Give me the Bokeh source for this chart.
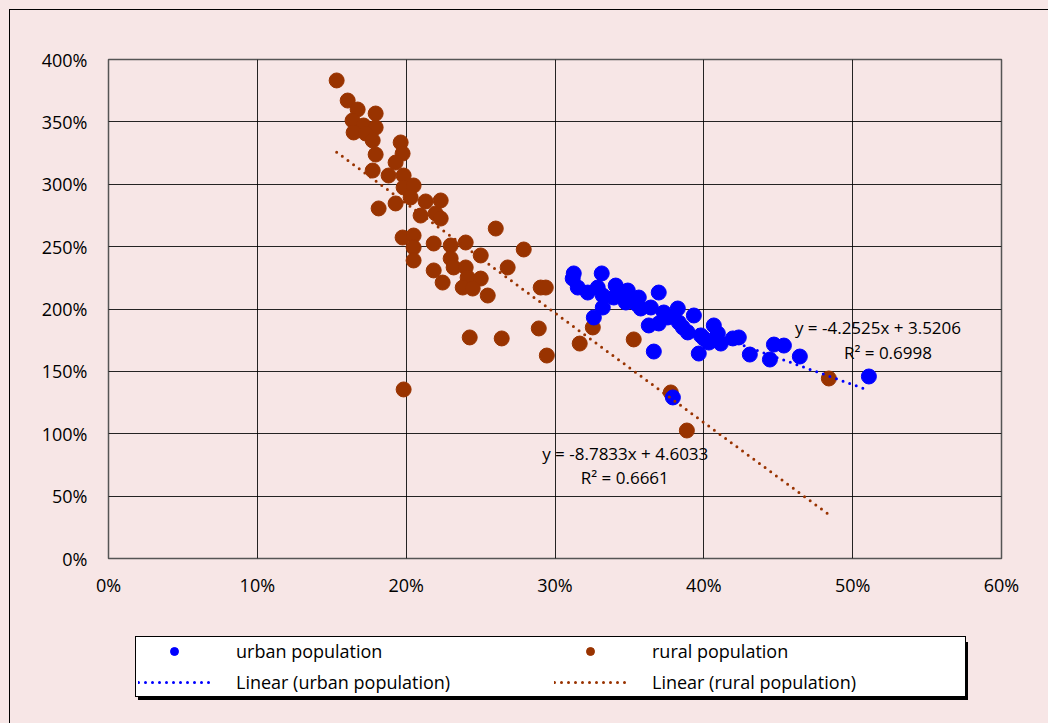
import numpy as np
from bokeh.plotting import figure
from bokeh.layouts import column
from bokeh.models import (Legend, LegendItem, NumeralTickFormatter, FixedTicker,
                          Label, Range1d, InlineStyleSheet)
from bokeh.embed import file_html
from bokeh.resources import INLINE

# ---- data (percent values) ----
urban_x = [31.26, 31.19, 33.14, 31.53, 32.20, 32.87, 33.21, 34.08, 33.95, 34.89,
           34.76, 35.63, 35.76, 36.97, 36.44, 37.31, 36.30, 36.97, 38.25, 38.32,
           39.33, 38.92, 39.80, 40.67, 40.94, 40.34, 41.14, 41.95, 42.35, 32.61,
           33.21, 36.64, 39.66, 43.09, 44.71, 45.38, 44.44, 46.45, 51.09, 37.92,
           34.29, 35.43, 37.58, 38.59, 40.00]
urban_y = [228.5, 224.4, 228.5, 217.2, 213.2, 217.2, 210.8, 218.8, 209.2, 214.8,
           205.2, 209.2, 200.4, 213.2, 201.2, 197.2, 186.8, 188.4, 200.4, 189.2,
           194.8, 181.2, 178.8, 186.8, 180.4, 173.1, 172.3, 176.4, 177.2, 193.2,
           201.2, 165.9, 164.3, 163.5, 171.5, 170.7, 159.5, 161.9, 145.9, 129.1,
           212.4, 204.4, 193.2, 185.2, 176.4]

rural_x = [15.33, 16.07, 16.74, 17.95, 16.40, 17.14, 17.95, 16.47, 17.28, 17.75,
           19.63, 19.76, 17.95, 19.29, 17.75, 18.82, 19.83, 19.83, 20.50, 18.15,
           19.29, 20.30, 21.31, 22.32, 20.97, 21.98, 22.32, 26.02, 19.76, 20.50,
           20.50, 20.50, 21.85, 22.99, 24.00, 25.01, 22.99, 23.19, 24.00, 21.85,
           22.45, 24.13, 25.01, 23.80, 24.47, 25.48, 27.90, 26.82, 29.04, 29.38,
           28.91, 24.27, 26.42, 29.45, 19.83, 31.66, 32.54, 35.29, 37.78, 38.86,
           48.40]
rural_y = [383.2, 367.1, 359.9, 356.7, 351.1, 347.1, 345.5, 341.5, 340.7, 335.1,
           333.5, 324.6, 323.8, 317.4, 311.0, 307.0, 307.0, 297.4, 299.0, 280.6,
           284.6, 289.4, 286.2, 287.0, 274.9, 276.6, 272.5, 264.5, 257.3, 258.9,
           249.3, 238.9, 252.5, 250.9, 253.3, 242.9, 240.5, 233.3, 233.3, 230.9,
           221.2, 225.3, 224.4, 217.2, 216.4, 210.8, 247.7, 233.3, 217.2, 217.2,
           184.4, 177.2, 176.4, 162.7, 135.5, 172.3, 185.2, 175.6, 133.1, 102.6,
           144.3]

# trendline coefficients shown on the chart
urban_slope, urban_intercept, urban_r2 = -4.2525, 3.5206, 0.6998
rural_slope, rural_intercept, rural_r2 = -8.7833, 4.6033, 0.6661

series_names = ["urban population", "rural population",
                "Linear (urban population)", "Linear (rural population)"]

x_ticks = [0, 0.1, 0.2, 0.3, 0.4, 0.5, 0.6]
y_ticks = [0, 0.5, 1.0, 1.5, 2.0, 2.5, 3.0, 3.5, 4.0]

ux = np.array(urban_x) / 100
uy = np.array(urban_y) / 100
rx = np.array(rural_x) / 100
ry = np.array(rural_y) / 100

BG = "#F7E6E6"
BLUE = "#0000FF"
BROWN = "#993300"
FONT = "Open Sans"
FS_AX = "18px"
FS_EQ = "17px"
FS_LEG = "18px"

main_css = InlineStyleSheet(css="""
:host { position: relative; }
:host::before {
  content: ""; position: absolute; left: 9px; top: 9px; right: 0; bottom: 0;
  border-left: 1px solid #000; border-top: 1px solid #000;
  pointer-events: none; z-index: 5;
}
""")
leg_css = InlineStyleSheet(css="""
:host { position: relative; }
:host::before {
  content: ""; position: absolute; left: 9px; top: 0; bottom: 0; width: 0;
  border-left: 1px solid #000; pointer-events: none; z-index: 5;
}
:host::after {
  content: ""; position: absolute; left: 135px; top: 39px; width: 830px; height: 58px;
  box-shadow: 3px 3px 0 #000; pointer-events: none; z-index: 5;
}
""")

p = figure(width=1048, height=600, output_backend="svg", toolbar_location=None,
           x_range=Range1d(0, 0.6), y_range=Range1d(0, 4.0),
           min_border_left=108, min_border_right=47, min_border_top=59,
           min_border_bottom=42)
p.stylesheets = [main_css]
p.background_fill_color = BG
p.border_fill_color = BG
p.outline_line_color = "#555555"
p.outline_line_width = 1.5

for ax, ticks in ((p.xaxis, x_ticks), (p.yaxis, y_ticks)):
    ax.ticker = FixedTicker(ticks=ticks)
    ax.formatter = NumeralTickFormatter(format="0%")
    ax.axis_line_color = None
    ax.major_tick_line_color = None
    ax.minor_tick_line_color = None
    ax.major_label_text_font = FONT
    ax.major_label_text_font_size = FS_AX
    ax.major_label_text_color = "#000000"
p.yaxis.major_label_standoff = 15
p.xaxis.major_label_standoff = 8

p.grid.grid_line_color = "#000000"
p.grid.grid_line_width = 1
p.grid.grid_line_alpha = 0.85
p.xgrid.ticker = FixedTicker(ticks=x_ticks)
p.ygrid.ticker = FixedTicker(ticks=y_ticks)

# points
p.scatter(rx, ry, size=15, color=BROWN, line_color=BROWN)
p.scatter(ux, uy, size=15, color=BLUE, line_color=BLUE)

# trendlines (Excel linear trendlines, over each series' x span)
uxl = np.array([ux.min(), ux.max()])
rxl = np.array([rx.min(), rx.max()])
LINE_STYLE = dict(line_width=3, line_dash="0 7", line_cap="round")
p.line(uxl, urban_slope * uxl + urban_intercept, line_color=BLUE, **LINE_STYLE)
p.line(rxl, rural_slope * rxl + rural_intercept, line_color=BROWN, **LINE_STYLE)

def lab(x, y, t):
    p.add_layout(Label(x=x, y=y, text=t, text_font=FONT, text_font_size=FS_EQ,
                       text_align="center", text_baseline="middle",
                       text_color="#000000"))

lab(0.517, 1.852, f"y = {urban_slope}x + {urban_intercept}")
lab(0.5237, 1.651, f"R² = {urban_r2}")
lab(0.3472, 0.8417, f"y = {rural_slope}x + {rural_intercept}")
lab(0.3469, 0.6493, f"R² = {rural_r2}")

# ---- legend strip (separate figure under the chart) ----
# same series drawn again, but outside this strip's ranges, so only the legend shows
lg = figure(width=1048, height=123, output_backend="svg", toolbar_location=None,
            x_range=Range1d(0, 0.6), y_range=Range1d(10, 11),
            min_border=0, min_border_left=0, min_border_right=0,
            min_border_top=0, min_border_bottom=0)
lg.stylesheets = [leg_css]
lg.axis.visible = False
lg.grid.visible = False
lg.background_fill_color = BG
lg.border_fill_color = BG
lg.outline_line_color = None

r_u = lg.scatter(ux, uy, size=12, color=BLUE, line_color=BLUE)
r_r = lg.scatter(rx, ry, size=12, color=BROWN, line_color=BROWN)
l_u = lg.line(uxl, urban_slope * uxl + urban_intercept, line_color=BLUE, **LINE_STYLE)
l_r = lg.line(rxl, rural_slope * rxl + rural_intercept, line_color=BROWN, **LINE_STYLE)

legend = Legend(items=[
    LegendItem(label=series_names[0], renderers=[r_u]),
    LegendItem(label=series_names[1], renderers=[r_r]),
    LegendItem(label=series_names[2], renderers=[l_u]),
    LegendItem(label=series_names[3], renderers=[l_r]),
], location=(27, 26), orientation="horizontal", ncols=2,
    padding=2, spacing=7, glyph_width=72, glyph_height=20, label_height=20,
    label_width=311, label_standoff=26, margin=0,
    label_text_font=FONT, label_text_font_size=FS_LEG, label_text_color="#000000",
    background_fill_color="#FFFFFF", background_fill_alpha=1,
    border_line_color="#000000", border_line_width=1, border_line_alpha=1)
lg.add_layout(legend, "center")

layout = column(p, lg, spacing=0)
layout.styles = {"background-color": BG}

open("out.html", "w").write(file_html(layout, INLINE))
